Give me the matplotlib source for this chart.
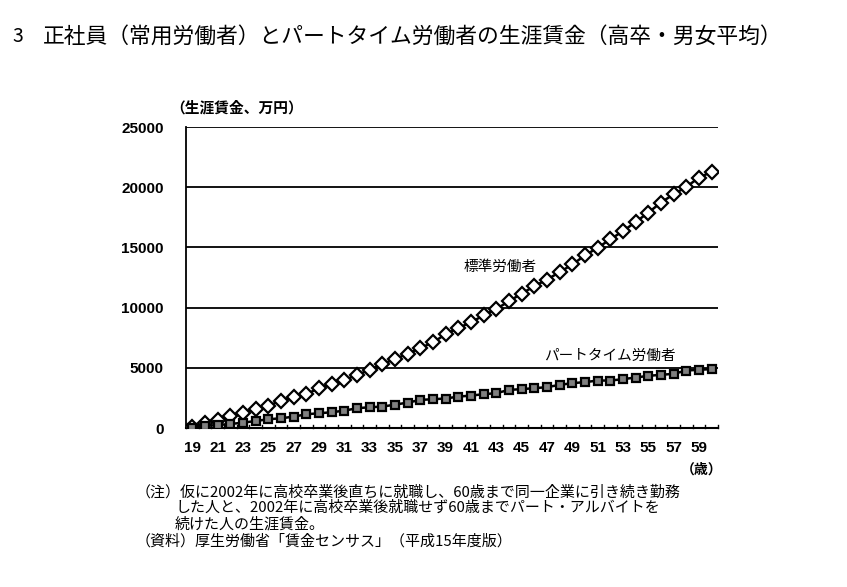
import matplotlib.pyplot as plt
import numpy as np

plt.rcParams['font.family'] = ['Noto Sans CJK JP', 'DejaVu Sans']

ages = list(range(19, 61))
# 標準労働者 (生涯賃金、万円)
standard = [108, 442, 667, 1000, 1275, 1608, 1833, 2275, 2558, 2808,
            3308, 3667, 4000, 4392, 4833, 5308, 5725, 6167, 6642, 7108,
            7790, 8308, 8775, 9358, 9892, 10525, 11167, 11775, 12333, 12942,
            13583, 14333, 14975, 15667, 16358, 17108, 17890, 18725, 19417, 20025,
            20800, 21275]
# パートタイム労働者
parttime = [25, 167, 250, 333, 442, 583, 725, 808, 942, 1142,
            1225, 1308, 1442, 1642, 1725, 1775, 1942, 2108, 2333, 2392,
            2450, 2608, 2692, 2808, 2892, 3167, 3225, 3308, 3392, 3583,
            3725, 3808, 3942, 3942, 4058, 4192, 4333, 4417, 4500, 4775,
            4833, 4892]
yticks = [0, 5000, 10000, 15000, 20000, 25000]

W, H = 847, 587
fig = plt.figure(figsize=(W / 100, H / 100), dpi=100)
ax = fig.add_axes([186 / W, 1 - 428 / H, (718 - 186) / W, (428 - 127) / H])

x = np.arange(len(ages))
ax.plot(x, standard, color='black', lw=1.8, marker='D', ms=7,
        mfc='white', mec='black', mew=1.6, zorder=3)
ax.plot(x, parttime, color='black', lw=1.8, marker='s', ms=6,
        mfc='#808080', mec='black', mew=1.6, zorder=3)

ax.set_xlim(-0.5, len(ages) - 0.5)
ax.set_ylim(0, 25000)
ax.set_yticks(yticks)
for v in yticks[1:]:
    ax.axhline(v, color='black', lw=1.3, zorder=1)

num_font = ['Liberation Sans Narrow', 'Liberation Sans', 'DejaVu Sans']
ax.set_yticklabels([str(v) for v in yticks], fontsize=11, fontweight='bold',
                   family=num_font)
ax.tick_params(axis='y', length=0, pad=16)

ax.set_xticks(x[::2])
ax.set_xticklabels([str(a) for a in ages[::2]], fontsize=11, fontweight='bold',
                   family=num_font)
ax.tick_params(axis='x', length=0, pad=9)
# category boundary ticks
for b in np.arange(-0.5, len(ages), 1.0):
    ax.plot([b, b], [0, 250], color='black', lw=1.0, clip_on=False, zorder=2)

for s in ['top', 'right']:
    ax.spines[s].set_visible(False)
ax.spines['left'].set_linewidth(1.3)
ax.spines['bottom'].set_linewidth(1.5)

ax.text(500 / W, 1 - 267 / H, '標準労働者', transform=fig.transFigure,
        ha='center', va='center', fontsize=10.5)
ax.text(610 / W, 1 - 356 / H, 'パートタイム労働者', transform=fig.transFigure,
        ha='center', va='center', fontsize=10.5)

fig.text(12 / W, 1 - 37 / H, '3', fontsize=14, va='center', ha='left')
fig.text(43 / W, 1 - 37 / H,
         '正社員（常用労働者）とパートタイム労働者の生涯賃金（高卒・男女平均）',
         fontsize=15.7, va='center', ha='left')
fig.text(170 / W, 1 - 107 / H, '（生涯賃金、万円）', fontsize=10.6,
         va='center', ha='left', fontweight='bold')
fig.text(722 / W, 1 - 470 / H, '（歳）', fontsize=10, va='center', ha='right',
         fontweight='bold')

notes = [
    (136, 492, '（注）仮に2002年に高校卒業後直ちに就職し、60歳まで同一企業に引き続き勤務'),
    (175, 508, 'した人と、2002年に高校卒業後就職せず60歳までパート・アルバイトを'),
    (175, 524, '続けた人の生涯賃金。'),
    (136, 541, '（資料）厚生労働省「賃金センサス」（平成15年度版）'),
]
for nx, ny, t in notes:
    fig.text(nx / W, 1 - ny / H, t, fontsize=10.8, va='center', ha='left')

fig.savefig('out.png', dpi=100)
